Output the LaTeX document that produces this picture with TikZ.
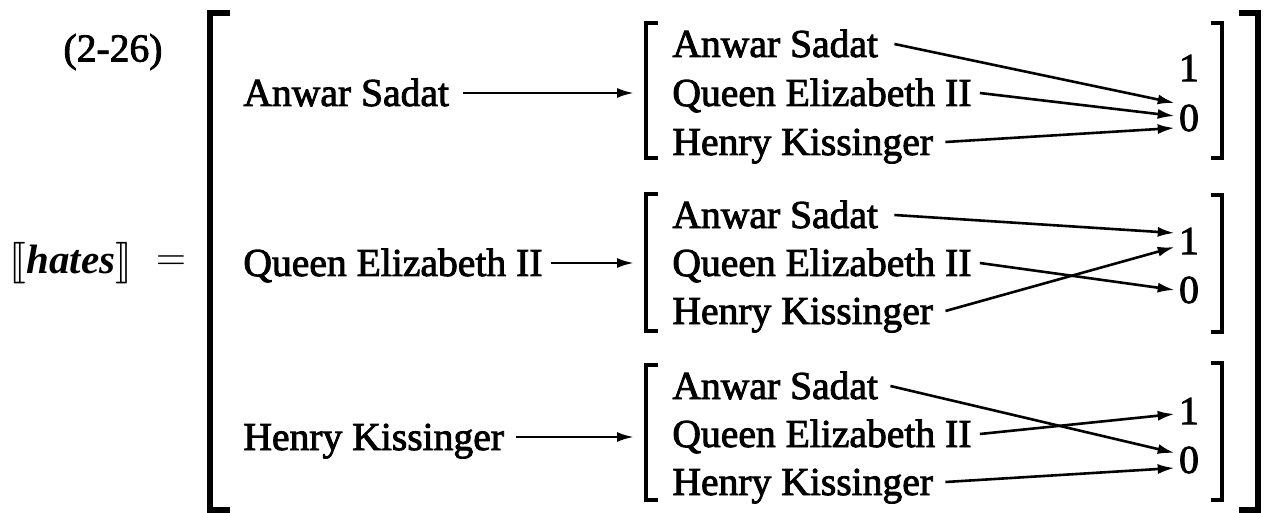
\documentclass[tikz,border=0pt]{standalone}
\usepackage{fontspec}
\setmainfont{Liberation Serif}
\newfontfamily\heavyserif{Liberation Serif}[FakeBold=2.2]
\usepackage{stmaryrd}
\usetikzlibrary{arrows.meta}

\begin{document}
\begin{tikzpicture}[x=0.5pt,y=-0.5pt,
  lbl/.style={inner sep=0pt, anchor=base west, font=\heavyserif\fontsize{19.8}{23}\selectfont},
  val/.style={inner sep=0pt, font=\heavyserif\fontsize{19.8}{23}\selectfont},
  arr/.style={-{Latex[length=8.5pt,width=5pt]}, line width=1.3pt},
  brk/.style={line width=2pt},
  bigbrk/.style={line width=3.4pt}]
\useasboundingbox (0,0) rectangle (1268,513);

% display number and the left-hand side
\node[val] (num) at (113,52) {(2-26)};
\node[inner sep=0pt, font=\fontsize{20.5}{23}\selectfont] (lhs) at (71,263) {$\llbracket$\textbf{\textit{hates}}$\rrbracket$};
\node[val, font=\fontsize{22}{24}\selectfont] (eq) at (171,263) {$=$};

% outer brackets
\draw[bigbrk] (230,13) -- (210,13) -- (210,510) -- (230,510);
\draw[bigbrk] (1239,13) -- (1258,13) -- (1258,510) -- (1239,510);

% arguments of the outer function
\node[lbl] (oa) at (243,106) {Anwar Sadat};
\node[lbl] (oq) at (243,276) {Queen Elizabeth II};
\node[lbl] (oh) at (243,450) {Henry Kissinger};
\coordinate (e1) at (634,93);
\coordinate (e2) at (634,263);
\coordinate (e3) at (634,437);
\draw[arr] ([xshift=7pt,yshift=6.5pt]oa.base east) -- (e1);
\draw[arr] ([xshift=4pt,yshift=6.5pt]oq.base east) -- (e2);
\draw[arr] ([xshift=6pt,yshift=6.5pt]oh.base east) -- (e3);

% inner function for Anwar Sadat
\draw[brk] (658,23) -- (646,23) -- (646,158) -- (658,158);
\draw[brk] (1211,23) -- (1222,23) -- (1222,158) -- (1211,158);
\node[lbl] (a1) at (672,57) {Anwar Sadat};
\node[lbl] (q1) at (672,106) {Queen Elizabeth II};
\node[lbl] (h1) at (672,155) {Henry Kissinger};
\node[val] (one1) at (1189,68) {1};
\node[val] (zero1) at (1189,118) {0};
\draw[arr] ([xshift=8pt,yshift=6.5pt]a1.base east) -- ([xshift=-2pt,yshift=7.5pt]zero1.west);
\draw[arr] ([xshift=4pt,yshift=6.5pt]q1.base east) -- ([xshift=-2pt,yshift=1pt]zero1.west);
\draw[arr] ([xshift=6pt,yshift=6.5pt]h1.base east) -- ([xshift=-2pt,yshift=-5pt]zero1.west);

% inner function for Queen Elizabeth II
\draw[brk] (658,194) -- (646,194) -- (646,331) -- (658,331);
\draw[brk] (1211,195) -- (1222,195) -- (1222,332) -- (1211,332);
\node[lbl] (a2) at (672,228) {Anwar Sadat};
\node[lbl] (q2) at (672,276) {Queen Elizabeth II};
\node[lbl] (h2) at (672,324) {Henry Kissinger};
\node[val] (one2) at (1189,241) {1};
\node[val] (zero2) at (1189,290) {0};
\draw[arr] ([xshift=8pt,yshift=6.5pt]a2.base east) -- ([xshift=-2pt,yshift=4pt]one2.west);
\draw[arr] ([xshift=4pt,yshift=6.5pt]q2.base east) -- ([xshift=-2pt]zero2.west);
\draw[arr] ([xshift=6pt,yshift=6.5pt]h2.base east) -- ([xshift=-2pt,yshift=-3pt]one2.west);

% inner function for Henry Kissinger
\draw[brk] (658,365) -- (646,365) -- (646,500) -- (658,500);
\draw[brk] (1211,363) -- (1222,363) -- (1222,500) -- (1211,500);
\node[lbl] (a3) at (672,399) {Anwar Sadat};
\node[lbl] (q3) at (672,447) {Queen Elizabeth II};
\node[lbl] (h3) at (672,495) {Henry Kissinger};
\node[val] (one3) at (1189,411) {1};
\node[val] (zero3) at (1189,460) {0};
\draw[arr] ([xshift=6pt,yshift=6.5pt]a3.base east) -- ([xshift=-2pt,yshift=3.5pt]zero3.west);
\draw[arr] ([xshift=4pt,yshift=6.5pt]q3.base east) -- ([xshift=-2pt,yshift=-1.5pt]one3.west);
\draw[arr] ([xshift=6pt,yshift=6.5pt]h3.base east) -- ([xshift=-2pt,yshift=-4pt]zero3.west);
\end{tikzpicture}
\end{document}
